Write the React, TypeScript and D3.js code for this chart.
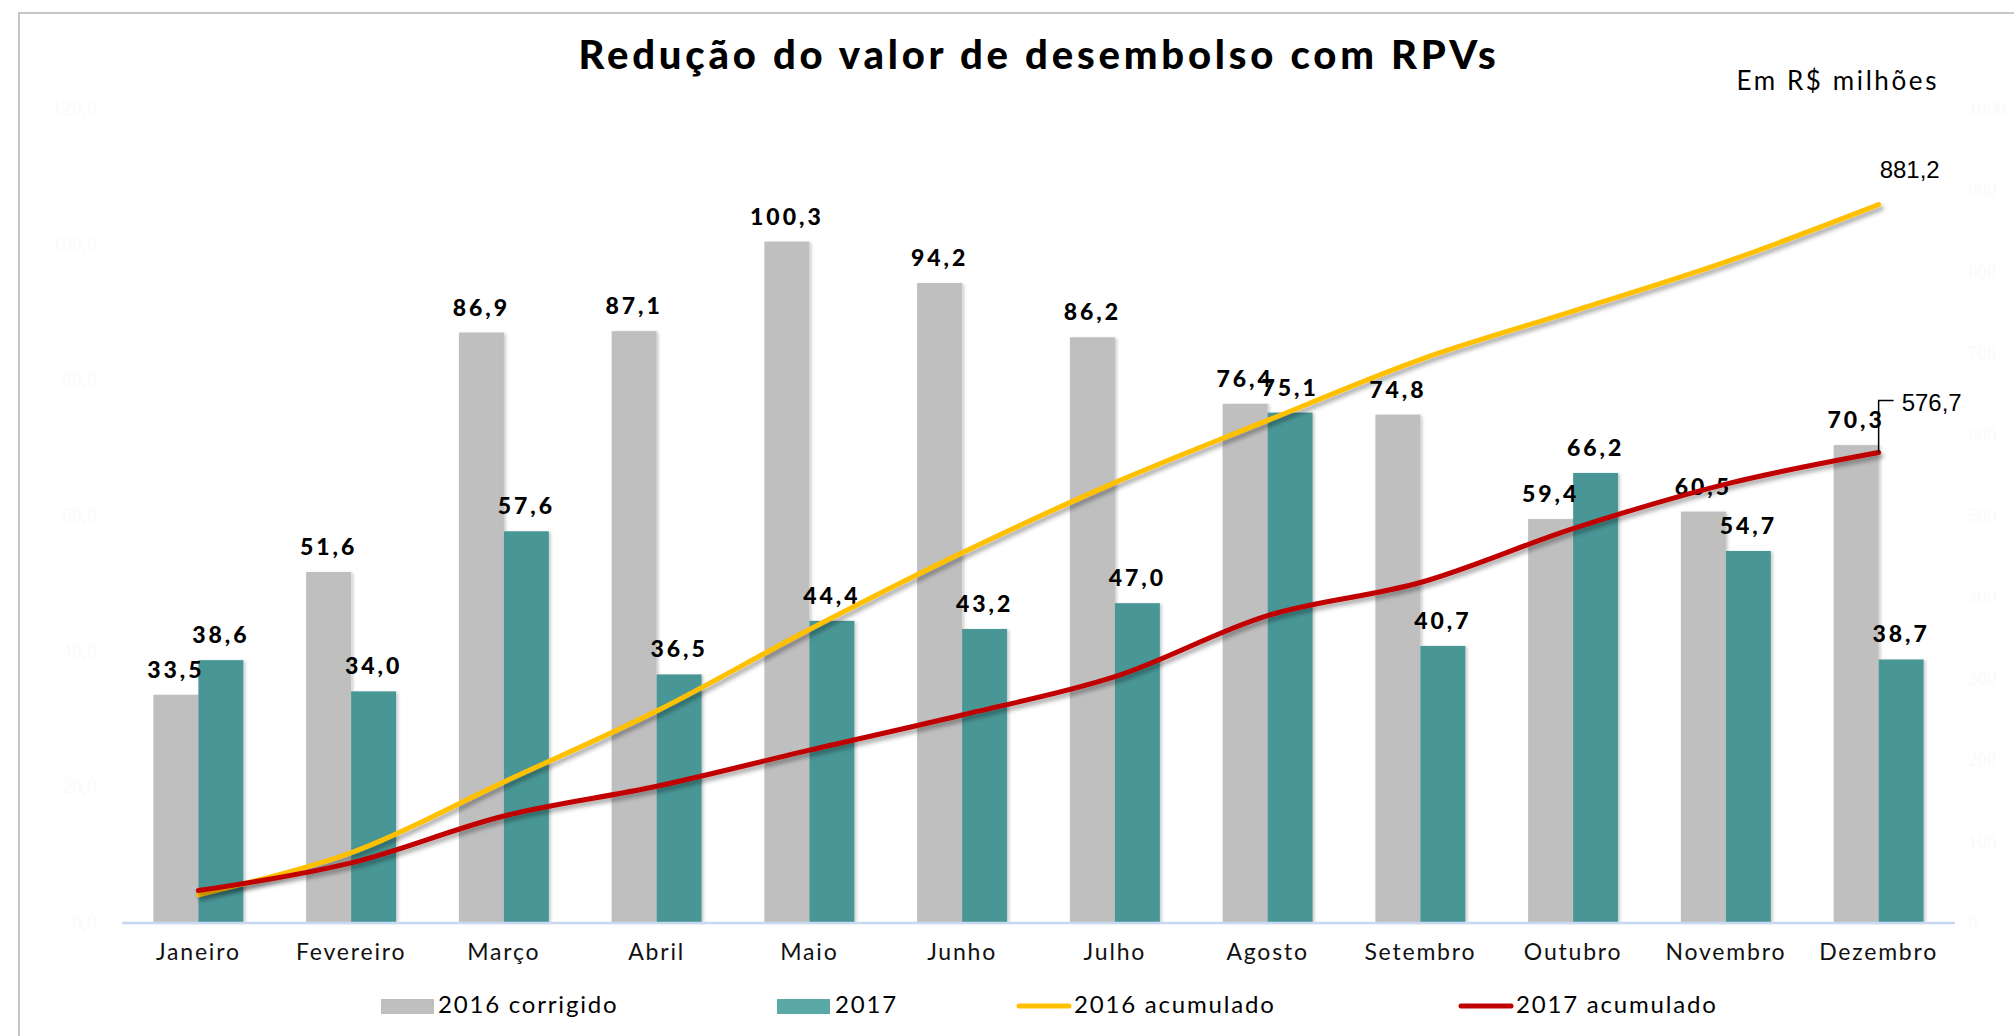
import React from 'react';
import * as d3 from 'd3';

const categories = ['Janeiro', 'Fevereiro', 'Março', 'Abril', 'Maio', 'Junho', 'Julho', 'Agosto', 'Setembro', 'Outubro', 'Novembro', 'Dezembro'];
const values2016 = [33.5, 51.6, 86.9, 87.1, 100.3, 94.2, 86.2, 76.4, 74.8, 59.4, 60.5, 70.3];
const values2017 = [38.6, 34.0, 57.6, 36.5, 44.4, 43.2, 47.0, 75.1, 40.7, 66.2, 54.7, 38.7];
const acum2016 = [33.5, 85.1, 172.0, 259.1, 359.4, 453.6, 539.8, 616.2, 691.0, 750.4, 810.9, 881.2];
const acum2017 = [38.6, 72.6, 130.2, 166.7, 211.1, 254.3, 301.3, 376.4, 417.1, 483.3, 538.0, 576.7];
const leftTicks = [0, 20, 40, 60, 80, 100, 120];
const rightTicks = [0, 100, 200, 300, 400, 500, 600, 700, 800, 900, 1000];
const seriesNames = ['2016 corrigido', '2017', '2016 acumulado', '2017 acumulado'];

const W = 2014, H = 1036;
const GRAY = '#BFBFBF', TEAL = '#4A9696', TEAL_L = '#5BA9A7', YELLOW = '#FFC000', RED = '#C00000';
const FONT = 'Lato, "Open Sans", sans-serif';
const ARIAL = "'Liberation Sans', Arial, sans-serif";

const fmt = (v: number) => d3.format('.1f')(v).replace('.', ',');

export default function App() {
  const x = d3.scaleBand<string>().domain(categories).range([122, 1955]).paddingInner(0.411).paddingOuter(0.2055);
  const x1 = d3.scaleBand<string>().domain(['a', 'b']).range([0, x.bandwidth()]);
  const yL = d3.scaleLinear().domain([0, 120]).range([922, 108]);
  const yR = d3.scaleLinear().domain([0, 1000]).range([922, 108]);
  const cx = (c: string) => (x(c) as number) + x.bandwidth() / 2;

  const line = d3.line<number>()
    .x((_, i) => cx(categories[i]))
    .y((d) => yR(d))
    .curve(d3.curveCatmullRom.alpha(0.5));

  const endX = cx(categories[11]);
  const end16 = yR(acum2016[11]);
  const end17 = yR(acum2017[11]);

  return (
    <svg width={W} height={H} style={{ position: 'absolute', left: 0, top: 0, background: '#fff' }} fontFamily={FONT}>
      <defs>
        <filter id="lineShadow" x="-10%" y="-10%" width="120%" height="130%">
          <feDropShadow dx="2.5" dy="3.5" stdDeviation="2.2" floodColor="#000" floodOpacity="0.35" />
        </filter>
        <filter id="barShadow" x="-20%" y="-5%" width="140%" height="110%">
          <feDropShadow dx="2" dy="1" stdDeviation="1.5" floodColor="#000" floodOpacity="0.2" />
        </filter>
      </defs>
      <rect x={19} y={13} width={4000} height={4000} fill="#fff" stroke="#c6c6c6" strokeWidth={2} />

      {/* title */}
      <text x={1039} y={69} textAnchor="middle" fontSize={40} fontWeight={900} letterSpacing={3.8} fill="#000">Redução do valor de desembolso com RPVs</text>
      <text x={1939} y={90} textAnchor="end" fontSize={26} letterSpacing={2.6} fill="#000">Em R$ milhões</text>

      {/* faint axes labels */}
      {leftTicks.map((t) => (
        <text key={'l' + t} x={97} y={yL(t) + 7} textAnchor="end" fontSize={20} fill="#fafafa" fontFamily="'Liberation Serif', serif">{fmt(t)}</text>
      ))}
      {rightTicks.map((t) => (
        <text key={'r' + t} x={1968} y={yR(t) + 7} textAnchor="start" fontSize={19} fill="#fafafa" fontFamily="'Liberation Serif', serif">{t}</text>
      ))}

      {/* bars */}
      <g filter="url(#barShadow)">
        {categories.map((c, i) => (
          <g key={c}>
            <rect x={(x(c) as number) + (x1('a') as number)} y={yL(values2016[i])} width={x1.bandwidth()} height={yL(0) - yL(values2016[i])} fill={GRAY} />
            <rect x={(x(c) as number) + (x1('b') as number)} y={yL(values2017[i])} width={x1.bandwidth()} height={yL(0) - yL(values2017[i])} fill={TEAL} />
          </g>
        ))}
      </g>

      {/* x axis */}
      <line x1={122} x2={1955} y1={yL(0) + 1} y2={yL(0) + 1} stroke="#C6D9F1" strokeWidth={2.5} />
      {categories.map((c) => (
        <text key={'t' + c} x={cx(c)} y={960} textAnchor="middle" fontSize={23} letterSpacing={1.8} fill="#111">{c}</text>
      ))}

      {/* bar labels */}
      {categories.map((c, i) => (
        <g key={'lab' + c} fontSize={23} fontWeight={900} letterSpacing={3} fill="#000">
          <text x={(x(c) as number) + (x1('a') as number) + x1.bandwidth() / 2} y={yL(values2016[i]) - 17} textAnchor="middle">{fmt(values2016[i])}</text>
          <text x={(x(c) as number) + (x1('b') as number) + x1.bandwidth() / 2} y={yL(values2017[i]) - 17} textAnchor="middle">{fmt(values2017[i])}</text>
        </g>
      ))}

      {/* cumulative lines */}
      <path d={line(acum2016) as string} fill="none" stroke={YELLOW} strokeWidth={5} strokeLinecap="round" filter="url(#lineShadow)" />
      <path d={line(acum2017) as string} fill="none" stroke={RED} strokeWidth={5} strokeLinecap="round" filter="url(#lineShadow)" />

      {/* end labels */}
      <text x={endX + 1} y={end16 - 27} fontSize={24} fill="#000" fontFamily={ARIAL}>{fmt(acum2016[11])}</text>
      <path d={`M${endX},${end17} V${end17 - 52} H${endX + 15}`} fill="none" stroke="#000" strokeWidth={1.5} />
      <text x={endX + 23} y={end17 - 42} fontSize={24} fill="#000" fontFamily={ARIAL}>{fmt(acum2017[11])}</text>

      {/* legend */}
      <g fontSize={24} letterSpacing={1.8} fill="#000">
        <rect x={381} y={999} width={53} height={15} fill={GRAY} />
        <text x={438} y={1013}>{seriesNames[0]}</text>
        <rect x={777} y={999} width={53} height={15} fill={TEAL_L} />
        <text x={835} y={1013}>{seriesNames[1]}</text>
        <line x1={1019} x2={1069} y1={1006} y2={1006} stroke={YELLOW} strokeWidth={5} strokeLinecap="round" />
        <text x={1074} y={1013}>{seriesNames[2]}</text>
        <line x1={1461} x2={1511} y1={1006} y2={1006} stroke={RED} strokeWidth={5} strokeLinecap="round" />
        <text x={1516} y={1013}>{seriesNames[3]}</text>
      </g>
    </svg>
  );
}
